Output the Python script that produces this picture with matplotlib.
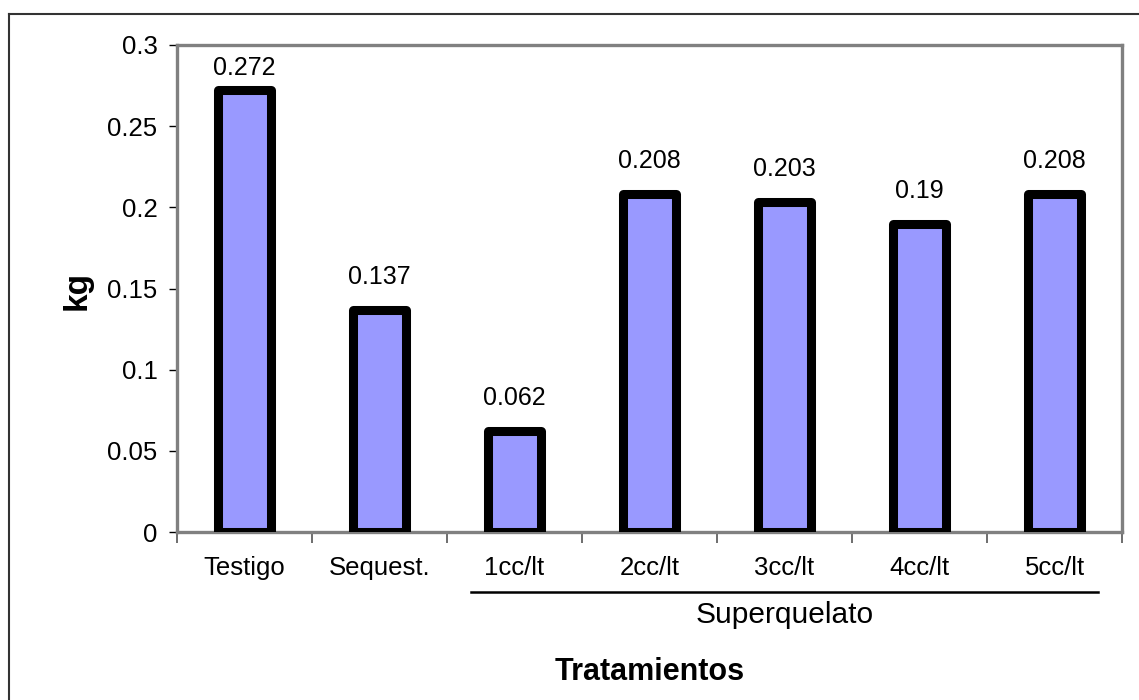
import matplotlib
matplotlib.use("Agg")
import matplotlib.pyplot as plt
from matplotlib.lines import Line2D
import matplotlib.transforms as mtransforms

plt.rcParams["font.family"] = ["Liberation Sans", "DejaVu Sans"]

categories = ["Testigo", "Sequest.", "1cc/lt", "2cc/lt", "3cc/lt", "4cc/lt", "5cc/lt"]
values = [0.272, 0.137, 0.062, 0.208, 0.203, 0.19, 0.208]
value_labels = ["0.272", "0.137", "0.062", "0.208", "0.203", "0.19", "0.208"]
group_name = "Superquelato"
group_first, group_last = 2, 6
y_ticks = [0, 0.05, 0.1, 0.15, 0.2, 0.25, 0.3]
y_tick_labels = ["0", "0.05", "0.1", "0.15", "0.2", "0.25", "0.3"]
y_max = 0.3

DPI = 100
AX_TOP, AX_BOTTOM = 45, 532  # pixel rows of the plot area

fig = plt.figure(figsize=(11.39, 7.0), dpi=DPI)
ax = fig.add_axes([177 / 1139, 1 - AX_BOTTOM / 700, (1122 - 177) / 1139,
                   (AX_BOTTOM - AX_TOP) / 700])

x = list(range(len(categories)))
ax.bar(x, values, width=0.395, color="#9999FF", edgecolor="black",
       linewidth=6.5, joinstyle="round", zorder=3)

# value labels sit above each bar, pushed down when they would hit the frame
px_per_unit = (AX_BOTTOM - AX_TOP) / y_max
for xi, v, lab in zip(x, values, value_labels):
    room_px = (y_max - v) * px_per_unit - 35
    off_px = min(21, room_px)
    ax.annotate(lab, (xi, v), xytext=(0, off_px * 72 / DPI), textcoords="offset points",
                ha="center", va="bottom", fontsize=18)

ax.set_xlim(-0.5, len(categories) - 0.5)
ax.set_ylim(0, y_max)

ax.set_yticks(y_ticks)
ax.set_yticklabels(y_tick_labels, fontsize=18.5)
ax.tick_params(axis="y", direction="out", length=6, width=1, color="black", pad=8)

ax.set_xticks(x)
ax.set_xticklabels(categories, fontsize=18.5)
ax.tick_params(axis="x", which="major", length=0, pad=17)
ax.set_xticks([i - 0.5 for i in range(len(categories) + 1)], minor=True)
ax.tick_params(axis="x", which="minor", direction="out", length=8, width=1.2,
               color="#555555")

for side in ("left", "right", "top", "bottom"):
    ax.spines[side].set_color("#808080")
    ax.spines[side].set_linewidth(2.4)

# bracket line and label for the Superquelato doses
blend = mtransforms.blended_transform_factory(ax.transData, fig.transFigure)
ax.add_line(Line2D([group_first - 0.32, group_last + 0.32], [1 - 592 / 700] * 2,
                   transform=blend, color="black", linewidth=1.8, clip_on=False))
ax.text((group_first + group_last) / 2, 1 - 615 / 700, group_name,
        transform=blend, ha="center", va="center", fontsize=21.5)

ax.text((len(categories) - 1) / 2, 1 - 672 / 700, "Tratamientos",
        transform=blend, ha="center", va="center", fontsize=22, fontweight="bold")
fig.text(77 / 1139, 1 - 290 / 700, "kg", rotation=90, ha="center", va="center",
         fontsize=24, fontweight="bold")

# outer chart border (runs off the right and bottom edges)
fig.add_artist(Line2D([9 / 1139, 9 / 1139], [0, 1 - 14 / 700],
                      transform=fig.transFigure, color="#333333", linewidth=1.5))
fig.add_artist(Line2D([9 / 1139, 1], [1 - 14 / 700, 1 - 14 / 700],
                      transform=fig.transFigure, color="#333333", linewidth=1.5))

fig.savefig("out.png", dpi=DPI)
